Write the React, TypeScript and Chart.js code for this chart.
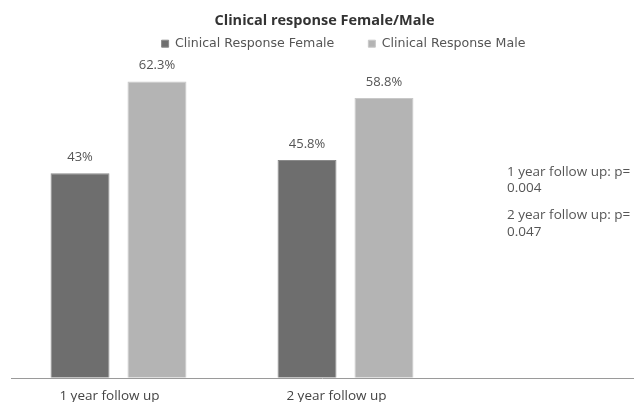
import React, { useEffect, useRef } from "react";
import { Chart, registerables } from "chart.js";

Chart.register(...registerables);

const categories = ["1 year follow up", "2 year follow up"];
const femaleValues = [43, 45.8];
const maleValues = [62.3, 58.8];
const valueLabelsFemale = ["43%", "45.8%"];
const valueLabelsMale = ["62.3%", "58.8%"];
const seriesNames = ["Clinical Response Female", "Clinical Response Male"];
const noteLines = ["1 year follow up: p=", "0.004", "", "2 year follow up: p=", "0.047"];

const FONT = "'Open Sans', 'DejaVu Sans', sans-serif";
const LEGEND_FONT = "'DejaVu Sans', 'Open Sans', sans-serif";

const extrasPlugin = {
  id: "extras",
  afterLayout(chart: any) {
    if (chart.legend) {
      chart.legend.left += 24;
      chart.legend.right += 24;
    }
    if (chart.titleBlock) {
      chart.titleBlock.left += 5;
      chart.titleBlock.right += 5;
    }
  },
  afterDatasetsDraw(chart: any) {
    const ctx = chart.ctx;
    const area = chart.chartArea;
    ctx.save();
    // category axis baseline, running under the note area as in the original
    ctx.strokeStyle = "#9a9a9a";
    ctx.lineWidth = 1;
    ctx.beginPath();
    const yb = Math.round(area.bottom) + 0.5;
    ctx.moveTo(area.left + 6, yb);
    ctx.lineTo(chart.width, yb);
    ctx.stroke();

    const labels = [valueLabelsFemale, valueLabelsMale];
    ctx.font = `13px ${FONT}`;
    ctx.fillStyle = "#555555";
    ctx.textAlign = "center";
    ctx.textBaseline = "middle";
    chart.data.datasets.forEach((_: any, di: number) => {
      const meta = chart.getDatasetMeta(di);
      meta.data.forEach((bar: any, i: number) => {
        ctx.fillText(labels[di][i], bar.x, bar.y - 16);
      });
    });

    ctx.font = `13.5px ${FONT}`;
    ctx.fillStyle = "#555555";
    ctx.textAlign = "left";
    const ys = [172, 188, 0, 215, 232];
    noteLines.forEach((t, i) => {
      if (t) ctx.fillText(t, 507, ys[i]);
    });
    ctx.restore();
  },
};

export default function App() {
  const ref = useRef<HTMLCanvasElement | null>(null);
  useEffect(() => {
    document.body.style.margin = "0";
    const chart = new Chart(ref.current as HTMLCanvasElement, {
      type: "bar",
      data: {
        labels: categories,
        datasets: [
          {
            label: seriesNames[0],
            data: femaleValues,
            backgroundColor: "#6e6e6e",
            borderColor: "#8a8a8a",
            borderWidth: 1,
          },
          {
            label: seriesNames[1],
            data: maleValues,
            backgroundColor: "#b4b4b4",
            borderColor: "#c8c8c8",
            borderWidth: 1,
          },
        ],
      },
      options: {
        animation: false,
        responsive: true,
        maintainAspectRatio: false,
        layout: { padding: { left: 5, right: 0, top: 0, bottom: -12 } },
        datasets: { bar: { categoryPercentage: 0.678, barPercentage: 0.766 } },
        plugins: {
          title: {
            display: true,
            text: "Clinical response Female/Male",
            color: "#333333",
            font: { family: FONT, size: 14.5, weight: "bold" },
            padding: { top: 12, bottom: -26 },
          },
          legend: {
            display: true,
            position: "top",
            labels: {
              boxWidth: 7,
              boxHeight: 7,
              padding: 34,
              color: "#555555",
              font: { family: LEGEND_FONT, size: 12.6 },
            },
          },
          tooltip: { enabled: false },
        },
        scales: {
          x: {
            grid: { display: false, drawTicks: false },
            border: { display: false },
            ticks: {
              color: "#444444",
              font: { family: FONT, size: 13.5 },
              padding: 10,
              labelOffset: -9,
            },
          },
          y: {
            display: false,
            min: 0,
            max: 66.8,
          },
          yr: {
            position: "right",
            display: true,
            grid: { display: false },
            border: { display: false },
            ticks: { display: false },
            afterFit: (s: any) => {
              s.width = 175;
            },
          },
        },
      },
      plugins: [extrasPlugin],
    });
    return () => chart.destroy();
  }, []);
  return (
    <div style={{ width: 634, height: 402, position: "relative" }}>
      <canvas ref={ref} />
    </div>
  );
}
